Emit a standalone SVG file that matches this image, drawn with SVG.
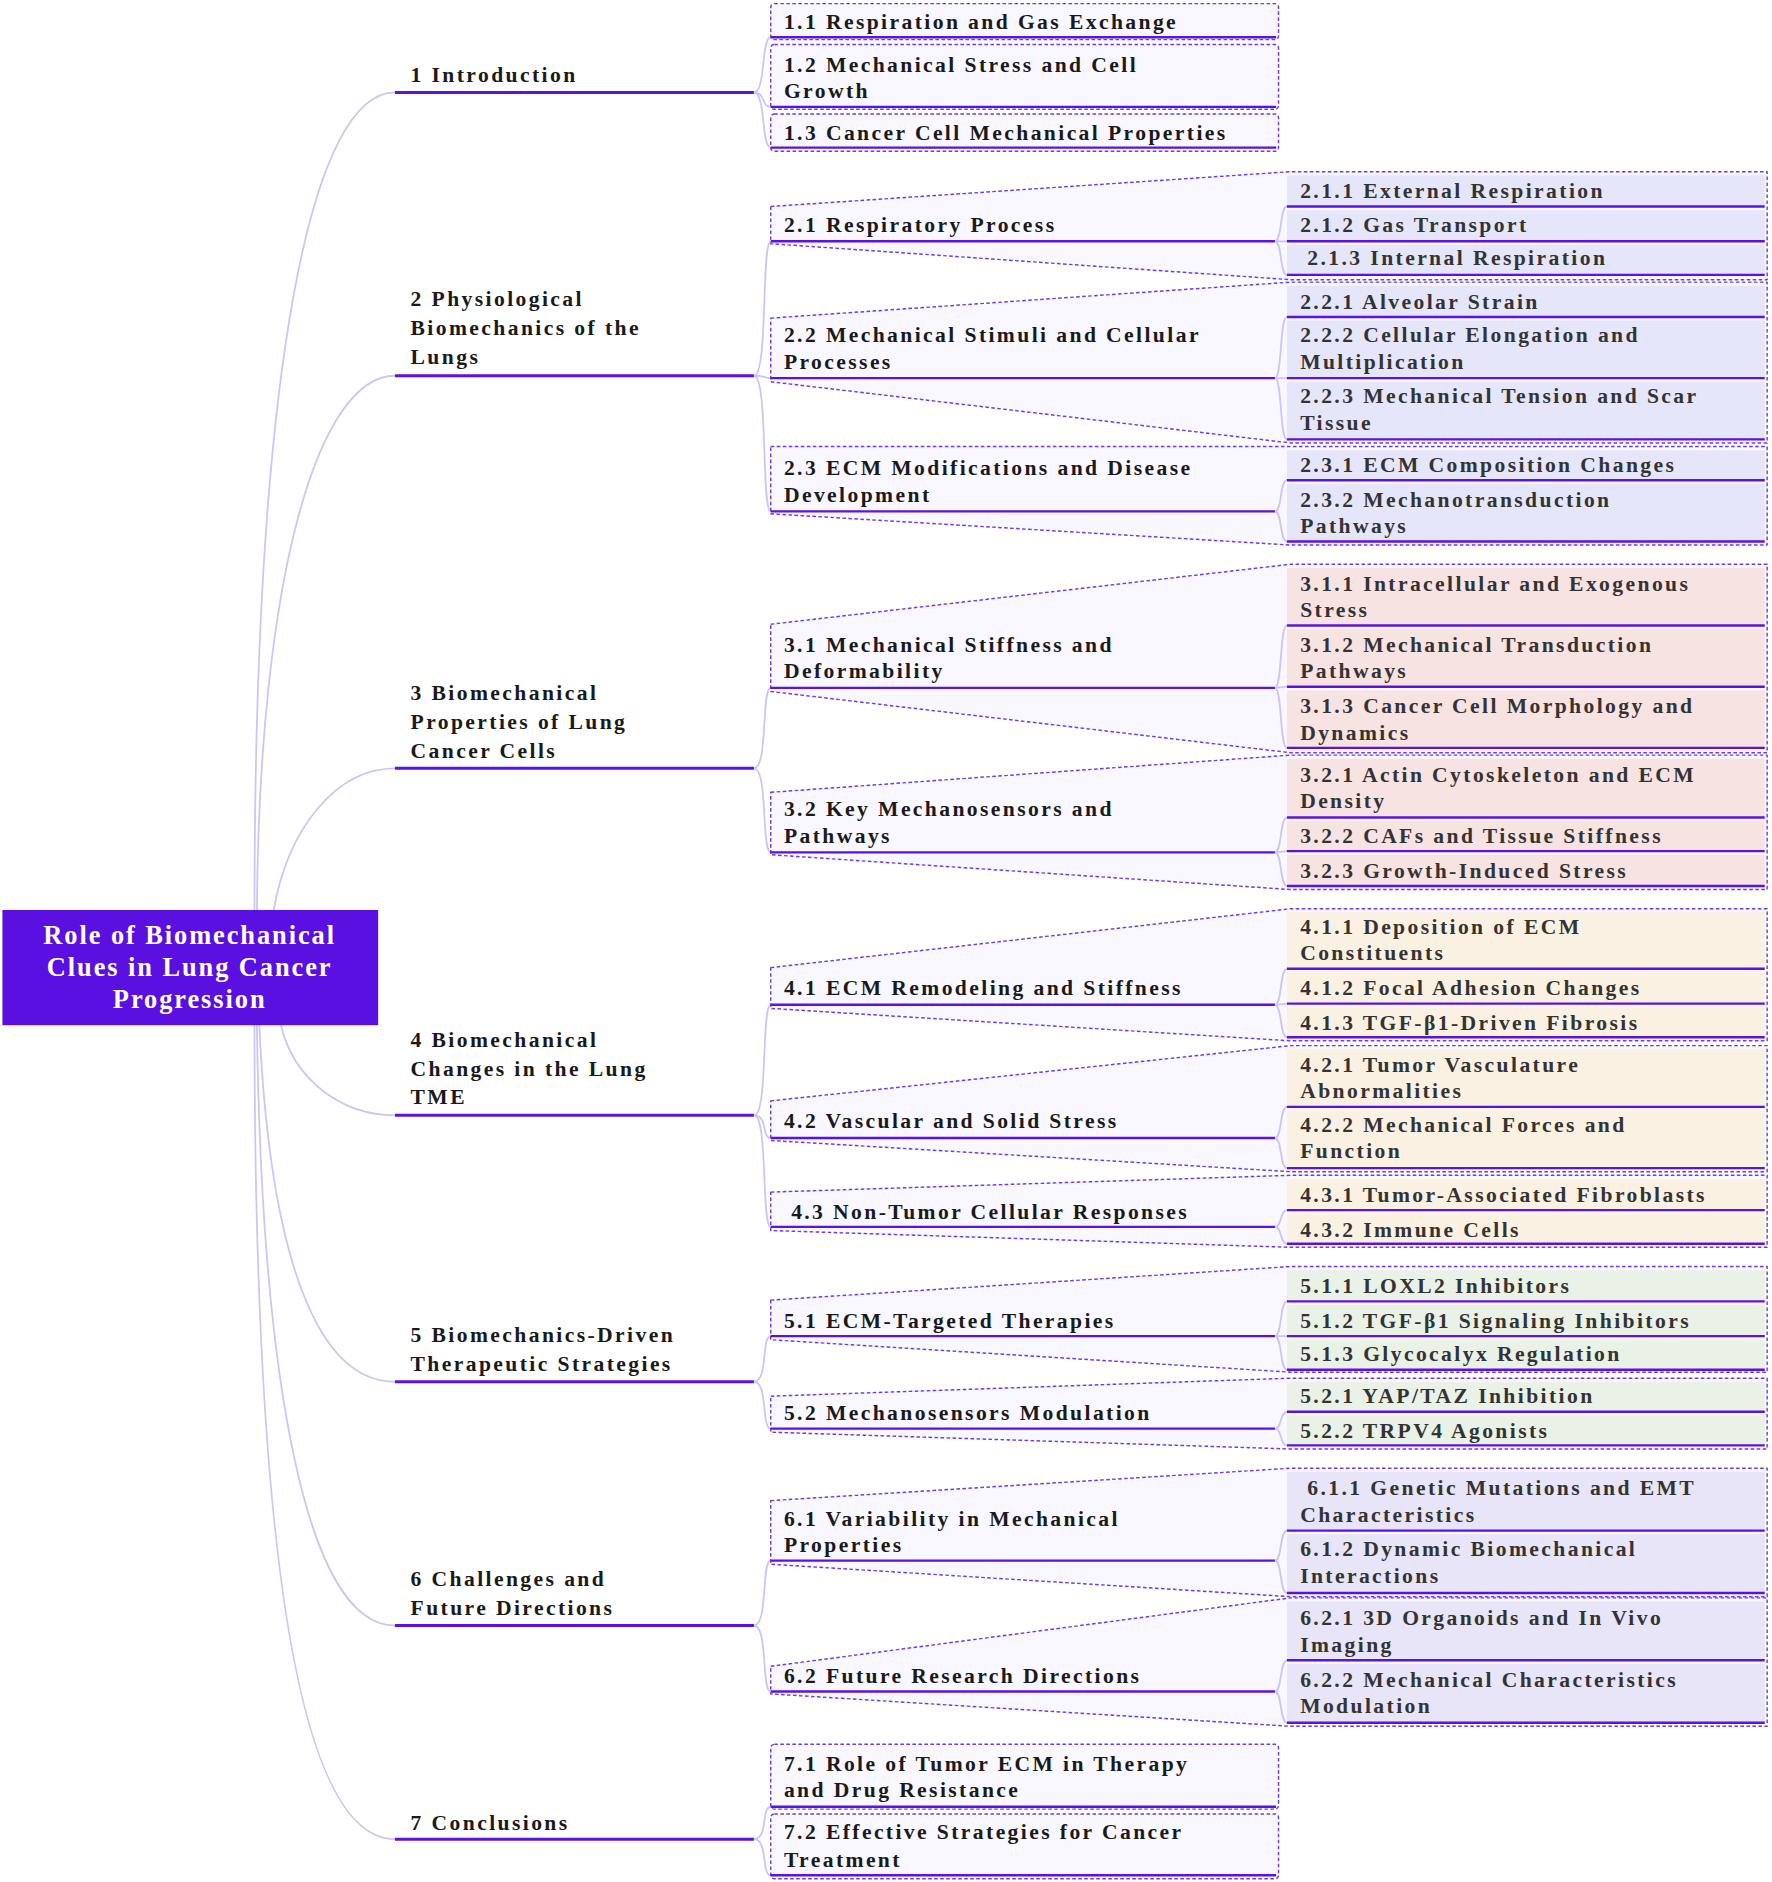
<svg xmlns="http://www.w3.org/2000/svg" width="1772" height="1882" viewBox="0 0 1772 1882">
<style>
.t{font-family:"Liberation Serif","Times New Roman",serif;font-weight:bold;font-size:18px;letter-spacing:2px;fill:#1a1a1a}
.ct{font-family:"Liberation Serif","Times New Roman",serif;font-weight:bold;font-size:18px;letter-spacing:2px;fill:#333}
.r{font-family:"Liberation Serif","Times New Roman",serif;font-weight:bold;font-size:22px;letter-spacing:1.6px;fill:#fff}
.ul{stroke:#5b12e6;stroke-width:2;fill:none}
.ul1{stroke:#5b12e6;stroke-width:2.5;fill:none}
.c{stroke:#cdc6f3;stroke-width:1.5;fill:none}
.o{stroke:#6b3ee8;stroke-width:1.2;stroke-dasharray:3 2;fill:#f9f7ff;stroke-linejoin:round}
.b2{fill:#e6e6fa}.b3{fill:#f8e3e3}.b4{fill:#fbf1e3}.b5{fill:#eaf1e7}.b6{fill:#e7e5f7}
</style>
<rect width="1772" height="1882" fill="#fff"/>
<g transform="scale(1.2005)">
<g id="connectors">
<path class="c" d="M212,758 C212,300 260,77 329,77"/>
<path class="c" d="M214,758 C216,480 265,313 329,313"/>
<path class="c" d="M228,758 C240,690 280,640 329,640"/>
<path class="c" d="M234,854 C245,900 285,929 329,929"/>
<path class="c" d="M216,854 C225,1050 265,1151 329,1151"/>
<path class="c" d="M214,854 C218,1150 255,1354 329,1354"/>
<path class="c" d="M212,854 C212,1300 250,1532 329,1532"/>
<path class="c" d="M628,77 C638,77 634,31 642,31 M628,77 C638,77 634,89 642,89 M628,77 C638,77 634,123 642,123"/>
<path class="c" d="M628,313 C640,313 634,201 642,201 M628,313 C638,313 636,315 642,315 M628,313 C640,313 634,426 642,426"/>
<path class="c" d="M628,640 C640,640 634,573 642,573 M628,640 C640,640 634,710 642,710"/>
<path class="c" d="M628,929 C640,929 634,837 642,837 M628,929 C640,929 634,948 642,948 M628,929 C640,929 634,1022 642,1022"/>
<path class="c" d="M628,1151 C640,1151 634,1113 642,1113 M628,1151 C640,1151 634,1190 642,1190"/>
<path class="c" d="M628,1354 C640,1354 634,1300 642,1300 M628,1354 C640,1354 634,1409 642,1409"/>
<path class="c" d="M628,1532 C640,1532 634,1505 642,1505 M628,1532 C640,1532 634,1562 642,1562"/>
</g>
<g id="root">
<rect x="2" y="758" width="313" height="96" fill="#5a10e0"/>
<text class="r" x="158" y="786" text-anchor="middle">Role of Biomechanical</text>
<text class="r" x="158" y="813" text-anchor="middle">Clues in Lung Cancer</text>
<text class="r" x="158" y="840" text-anchor="middle">Progression</text>
</g>
<g id="n1"><text class="t" x="342" y="68">1 Introduction</text><line class="ul1" x1="329" y1="77" x2="628" y2="77"/></g>
<g id="n2"><text class="t" x="342" y="255">2 Physiological</text><text class="t" x="342" y="279">Biomechanics of the</text><text class="t" x="342" y="303">Lungs</text><line class="ul1" x1="329" y1="313" x2="628" y2="313"/></g>
<g id="n3"><text class="t" x="342" y="583">3 Biomechanical</text><text class="t" x="342" y="607">Properties of Lung</text><text class="t" x="342" y="631">Cancer Cells</text><line class="ul1" x1="329" y1="640" x2="628" y2="640"/></g>
<g id="n4"><text class="t" x="342" y="872">4 Biomechanical</text><text class="t" x="342" y="896">Changes in the Lung</text><text class="t" x="342" y="920">TME</text><line class="ul1" x1="329" y1="929" x2="628" y2="929"/></g>
<g id="n5"><text class="t" x="342" y="1118">5 Biomechanics-Driven</text><text class="t" x="342" y="1142">Therapeutic Strategies</text><line class="ul1" x1="329" y1="1151" x2="628" y2="1151"/></g>
<g id="n6"><text class="t" x="342" y="1321">6 Challenges and</text><text class="t" x="342" y="1345">Future Directions</text><line class="ul1" x1="329" y1="1354" x2="628" y2="1354"/></g>
<g id="n7"><text class="t" x="342" y="1524">7 Conclusions</text><line class="ul1" x1="329" y1="1532" x2="628" y2="1532"/></g>

<g id="n1_1"><rect class="o" x="642" y="3" width="423" height="30" rx="3"/><text class="t" x="653" y="24">1.1 Respiration and Gas Exchange</text><line class="ul" x1="642" y1="31" x2="1063" y2="31"/></g>
<g id="n1_2"><rect class="o" x="642" y="37" width="423" height="54" rx="3"/><text class="t" x="653" y="60">1.2 Mechanical Stress and Cell</text><text class="t" x="653" y="82">Growth</text><line class="ul" x1="642" y1="89" x2="1063" y2="89"/></g>
<g id="n1_3"><rect class="o" x="642" y="95" width="423" height="31" rx="3"/><text class="t" x="653" y="117">1.3 Cancer Cell Mechanical Properties</text><line class="ul" x1="642" y1="123" x2="1063" y2="123"/></g>

<g id="n2_1"><polygon class="o" points="642,172 1075,143 1472,143 1472,233 1075,233 642,203"/><text class="t" x="653" y="193">2.1 Respiratory Process</text><line class="ul" x1="642" y1="201" x2="1062" y2="201"/>
<path class="c" d="M1062,201 C1068,201 1066,172 1072,172 M1062,201 L1072,201 M1062,201 C1068,201 1066,229 1072,229"/>
<rect class="b2" x="1072" y="146" width="398" height="26"/><text class="ct" x="1083" y="165">2.1.1 External Respiration</text><line class="ul" x1="1072" y1="172" x2="1470" y2="172"/>
<rect class="b2" x="1072" y="175" width="398" height="26"/><text class="ct" x="1083" y="193">2.1.2 Gas Transport</text><line class="ul" x1="1072" y1="201" x2="1470" y2="201"/>
<rect class="b2" x="1072" y="204" width="398" height="25"/><text class="ct" x="1089" y="221">2.1.3 Internal Respiration</text><line class="ul" x1="1072" y1="229" x2="1470" y2="229"/></g>

<g id="n2_2"><polygon class="o" points="642,265 1075,235 1472,235 1472,369 1075,369 642,318"/><text class="t" x="653" y="285">2.2 Mechanical Stimuli and Cellular</text><text class="t" x="653" y="307">Processes</text><line class="ul" x1="642" y1="315" x2="1062" y2="315"/>
<path class="c" d="M1062,315 C1068,315 1066,264 1072,264 M1062,315 L1072,315 M1062,315 C1068,315 1066,366 1072,366"/>
<rect class="b2" x="1072" y="238" width="398" height="26"/><text class="ct" x="1083" y="257">2.2.1 Alveolar Strain</text><line class="ul" x1="1072" y1="264" x2="1470" y2="264"/>
<rect class="b2" x="1072" y="267" width="398" height="48"/><text class="ct" x="1083" y="285">2.2.2 Cellular Elongation and</text><text class="ct" x="1083" y="307">Multiplication</text><line class="ul" x1="1072" y1="315" x2="1470" y2="315"/>
<rect class="b2" x="1072" y="318" width="398" height="48"/><text class="ct" x="1083" y="336">2.2.3 Mechanical Tension and Scar</text><text class="ct" x="1083" y="358">Tissue</text><line class="ul" x1="1072" y1="366" x2="1470" y2="366"/></g>

<g id="n2_3"><polygon class="o" points="642,372 1075,372 1472,372 1472,454 1075,454 642,428"/><text class="t" x="653" y="396">2.3 ECM Modifications and Disease</text><text class="t" x="653" y="418">Development</text><line class="ul" x1="642" y1="426" x2="1062" y2="426"/>
<path class="c" d="M1062,426 C1068,426 1066,400 1072,400 M1062,426 C1068,426 1066,451 1072,451"/>
<rect class="b2" x="1072" y="375" width="398" height="25"/><text class="ct" x="1083" y="393">2.3.1 ECM Composition Changes</text><line class="ul" x1="1072" y1="400" x2="1470" y2="400"/>
<rect class="b2" x="1072" y="403" width="398" height="48"/><text class="ct" x="1083" y="422">2.3.2 Mechanotransduction</text><text class="ct" x="1083" y="444">Pathways</text><line class="ul" x1="1072" y1="451" x2="1470" y2="451"/></g>

<g id="n3_1"><polygon class="o" points="642,520 1075,470 1472,470 1472,627 1075,627 642,576"/><text class="t" x="653" y="543">3.1 Mechanical Stiffness and</text><text class="t" x="653" y="565">Deformability</text><line class="ul" x1="642" y1="573" x2="1062" y2="573"/>
<path class="c" d="M1062,573 C1068,573 1066,521 1072,521 M1062,573 L1072,572 M1062,573 C1068,573 1066,623 1072,623"/>
<rect class="b3" x="1072" y="473" width="398" height="48"/><text class="ct" x="1083" y="492">3.1.1 Intracellular and Exogenous</text><text class="ct" x="1083" y="514">Stress</text><line class="ul" x1="1072" y1="521" x2="1470" y2="521"/>
<rect class="b3" x="1072" y="524" width="398" height="48"/><text class="ct" x="1083" y="543">3.1.2 Mechanical Transduction</text><text class="ct" x="1083" y="565">Pathways</text><line class="ul" x1="1072" y1="572" x2="1470" y2="572"/>
<rect class="b3" x="1072" y="575" width="398" height="48"/><text class="ct" x="1083" y="594">3.1.3 Cancer Cell Morphology and</text><text class="ct" x="1083" y="616">Dynamics</text><line class="ul" x1="1072" y1="623" x2="1470" y2="623"/></g>

<g id="n3_2"><polygon class="o" points="642,660 1075,629 1472,629 1472,741 1075,741 642,712"/><text class="t" x="653" y="680">3.2 Key Mechanosensors and</text><text class="t" x="653" y="702">Pathways</text><line class="ul" x1="642" y1="710" x2="1062" y2="710"/>
<path class="c" d="M1062,710 C1068,710 1066,681 1072,681 M1062,710 L1072,709 M1062,710 C1068,710 1066,738 1072,738"/>
<rect class="b3" x="1072" y="632" width="398" height="49"/><text class="ct" x="1083" y="651">3.2.1 Actin Cytoskeleton and ECM</text><text class="ct" x="1083" y="673">Density</text><line class="ul" x1="1072" y1="681" x2="1470" y2="681"/>
<rect class="b3" x="1072" y="684" width="398" height="25"/><text class="ct" x="1083" y="702">3.2.2 CAFs and Tissue Stiffness</text><line class="ul" x1="1072" y1="709" x2="1470" y2="709"/>
<rect class="b3" x="1072" y="712" width="398" height="26"/><text class="ct" x="1083" y="731">3.2.3 Growth-Induced Stress</text><line class="ul" x1="1072" y1="738" x2="1470" y2="738"/></g>

<g id="n4_1"><polygon class="o" points="642,806 1075,757 1472,757 1472,867 1075,867 642,840"/><text class="t" x="653" y="829">4.1 ECM Remodeling and Stiffness</text><line class="ul" x1="642" y1="837" x2="1062" y2="837"/>
<path class="c" d="M1062,837 C1068,837 1066,807 1072,807 M1062,837 L1072,836 M1062,837 C1068,837 1066,864 1072,864"/>
<rect class="b4" x="1072" y="760" width="398" height="47"/><text class="ct" x="1083" y="778">4.1.1 Deposition of ECM</text><text class="ct" x="1083" y="800">Constituents</text><line class="ul" x1="1072" y1="807" x2="1470" y2="807"/>
<rect class="b4" x="1072" y="810" width="398" height="26"/><text class="ct" x="1083" y="829">4.1.2 Focal Adhesion Changes</text><line class="ul" x1="1072" y1="836" x2="1470" y2="836"/>
<rect class="b4" x="1072" y="839" width="398" height="25"/><text class="ct" x="1083" y="858">4.1.3 TGF-β1-Driven Fibrosis</text><line class="ul" x1="1072" y1="864" x2="1470" y2="864"/></g>

<g id="n4_2"><polygon class="o" points="642,917 1075,871 1472,871 1472,976 1075,976 642,950"/><text class="t" x="653" y="940">4.2 Vascular and Solid Stress</text><line class="ul" x1="642" y1="948" x2="1062" y2="948"/>
<path class="c" d="M1062,948 C1068,948 1066,922 1072,922 M1062,948 C1068,948 1066,973 1072,973"/>
<rect class="b4" x="1072" y="874" width="398" height="48"/><text class="ct" x="1083" y="893">4.2.1 Tumor Vasculature</text><text class="ct" x="1083" y="915">Abnormalities</text><line class="ul" x1="1072" y1="922" x2="1470" y2="922"/>
<rect class="b4" x="1072" y="925" width="398" height="48"/><text class="ct" x="1083" y="943">4.2.2 Mechanical Forces and</text><text class="ct" x="1083" y="965">Function</text><line class="ul" x1="1072" y1="973" x2="1470" y2="973"/></g>

<g id="n4_3"><polygon class="o" points="642,993 1075,979 1472,979 1472,1039 1075,1039 642,1025"/><text class="t" x="659" y="1015">4.3 Non-Tumor Cellular Responses</text><line class="ul" x1="642" y1="1022" x2="1062" y2="1022"/>
<path class="c" d="M1062,1022 C1068,1022 1066,1008 1072,1008 M1062,1022 C1068,1022 1066,1036 1072,1036"/>
<rect class="b4" x="1072" y="982" width="398" height="26"/><text class="ct" x="1083" y="1001">4.3.1 Tumor-Associated Fibroblasts</text><line class="ul" x1="1072" y1="1008" x2="1470" y2="1008"/>
<rect class="b4" x="1072" y="1011" width="398" height="25"/><text class="ct" x="1083" y="1030">4.3.2 Immune Cells</text><line class="ul" x1="1072" y1="1036" x2="1470" y2="1036"/></g>

<g id="n5_1"><polygon class="o" points="642,1083 1075,1055 1472,1055 1472,1143 1075,1143 642,1116"/><text class="t" x="653" y="1106">5.1 ECM-Targeted Therapies</text><line class="ul" x1="642" y1="1113" x2="1062" y2="1113"/>
<path class="c" d="M1062,1113 C1068,1113 1066,1084 1072,1084 M1062,1113 L1072,1113 M1062,1113 C1068,1113 1066,1141 1072,1141"/>
<rect class="b5" x="1072" y="1058" width="398" height="26"/><text class="ct" x="1083" y="1077">5.1.1 LOXL2 Inhibitors</text><line class="ul" x1="1072" y1="1084" x2="1470" y2="1084"/>
<rect class="b5" x="1072" y="1087" width="398" height="26"/><text class="ct" x="1083" y="1106">5.1.2 TGF-β1 Signaling Inhibitors</text><line class="ul" x1="1072" y1="1113" x2="1470" y2="1113"/>
<rect class="b5" x="1072" y="1116" width="398" height="25"/><text class="ct" x="1083" y="1134">5.1.3 Glycocalyx Regulation</text><line class="ul" x1="1072" y1="1141" x2="1470" y2="1141"/></g>

<g id="n5_2"><polygon class="o" points="642,1163 1075,1148 1472,1148 1472,1207 1075,1207 642,1193"/><text class="t" x="653" y="1183">5.2 Mechanosensors Modulation</text><line class="ul" x1="642" y1="1190" x2="1062" y2="1190"/>
<path class="c" d="M1062,1190 C1068,1190 1066,1176 1072,1176 M1062,1190 C1068,1190 1066,1204 1072,1204"/>
<rect class="b5" x="1072" y="1151" width="398" height="25"/><text class="ct" x="1083" y="1169">5.2.1 YAP/TAZ Inhibition</text><line class="ul" x1="1072" y1="1176" x2="1470" y2="1176"/>
<rect class="b5" x="1072" y="1179" width="398" height="25"/><text class="ct" x="1083" y="1198">5.2.2 TRPV4 Agonists</text><line class="ul" x1="1072" y1="1204" x2="1470" y2="1204"/></g>

<g id="n6_1"><polygon class="o" points="642,1250 1075,1223 1472,1223 1472,1330 1075,1330 642,1303"/><text class="t" x="653" y="1271">6.1 Variability in Mechanical</text><text class="t" x="653" y="1293">Properties</text><line class="ul" x1="642" y1="1300" x2="1062" y2="1300"/>
<path class="c" d="M1062,1300 C1068,1300 1066,1275 1072,1275 M1062,1300 C1068,1300 1066,1327 1072,1327"/>
<rect class="b6" x="1072" y="1226" width="398" height="49"/><text class="ct" x="1089" y="1245">6.1.1 Genetic Mutations and EMT</text><text class="ct" x="1083" y="1268">Characteristics</text><line class="ul" x1="1072" y1="1275" x2="1470" y2="1275"/>
<rect class="b6" x="1072" y="1278" width="398" height="49"/><text class="ct" x="1083" y="1296">6.1.2 Dynamic Biomechanical</text><text class="ct" x="1083" y="1319">Interactions</text><line class="ul" x1="1072" y1="1327" x2="1470" y2="1327"/></g>

<g id="n6_2"><polygon class="o" points="642,1388 1075,1331 1472,1331 1472,1438 1075,1438 642,1411"/><text class="t" x="653" y="1402">6.2 Future Research Directions</text><line class="ul" x1="642" y1="1409" x2="1062" y2="1409"/>
<path class="c" d="M1062,1409 C1068,1409 1066,1383 1072,1383 M1062,1409 C1068,1409 1066,1435 1072,1435"/>
<rect class="b6" x="1072" y="1334" width="398" height="49"/><text class="ct" x="1083" y="1354">6.2.1 3D Organoids and In Vivo</text><text class="ct" x="1083" y="1376">Imaging</text><line class="ul" x1="1072" y1="1383" x2="1470" y2="1383"/>
<rect class="b6" x="1072" y="1386" width="398" height="49"/><text class="ct" x="1083" y="1405">6.2.2 Mechanical Characteristics</text><text class="ct" x="1083" y="1427">Modulation</text><line class="ul" x1="1072" y1="1435" x2="1470" y2="1435"/></g>

<g id="n7_1"><rect class="o" x="642" y="1453" width="423" height="54" rx="3"/><text class="t" x="653" y="1475">7.1 Role of Tumor ECM in Therapy</text><text class="t" x="653" y="1497">and Drug Resistance</text><line class="ul" x1="642" y1="1505" x2="1063" y2="1505"/></g>
<g id="n7_2"><rect class="o" x="642" y="1511" width="423" height="54" rx="3"/><text class="t" x="653" y="1532">7.2 Effective Strategies for Cancer</text><text class="t" x="653" y="1555">Treatment</text><line class="ul" x1="642" y1="1562" x2="1063" y2="1562"/></g>
</g>
</svg>
